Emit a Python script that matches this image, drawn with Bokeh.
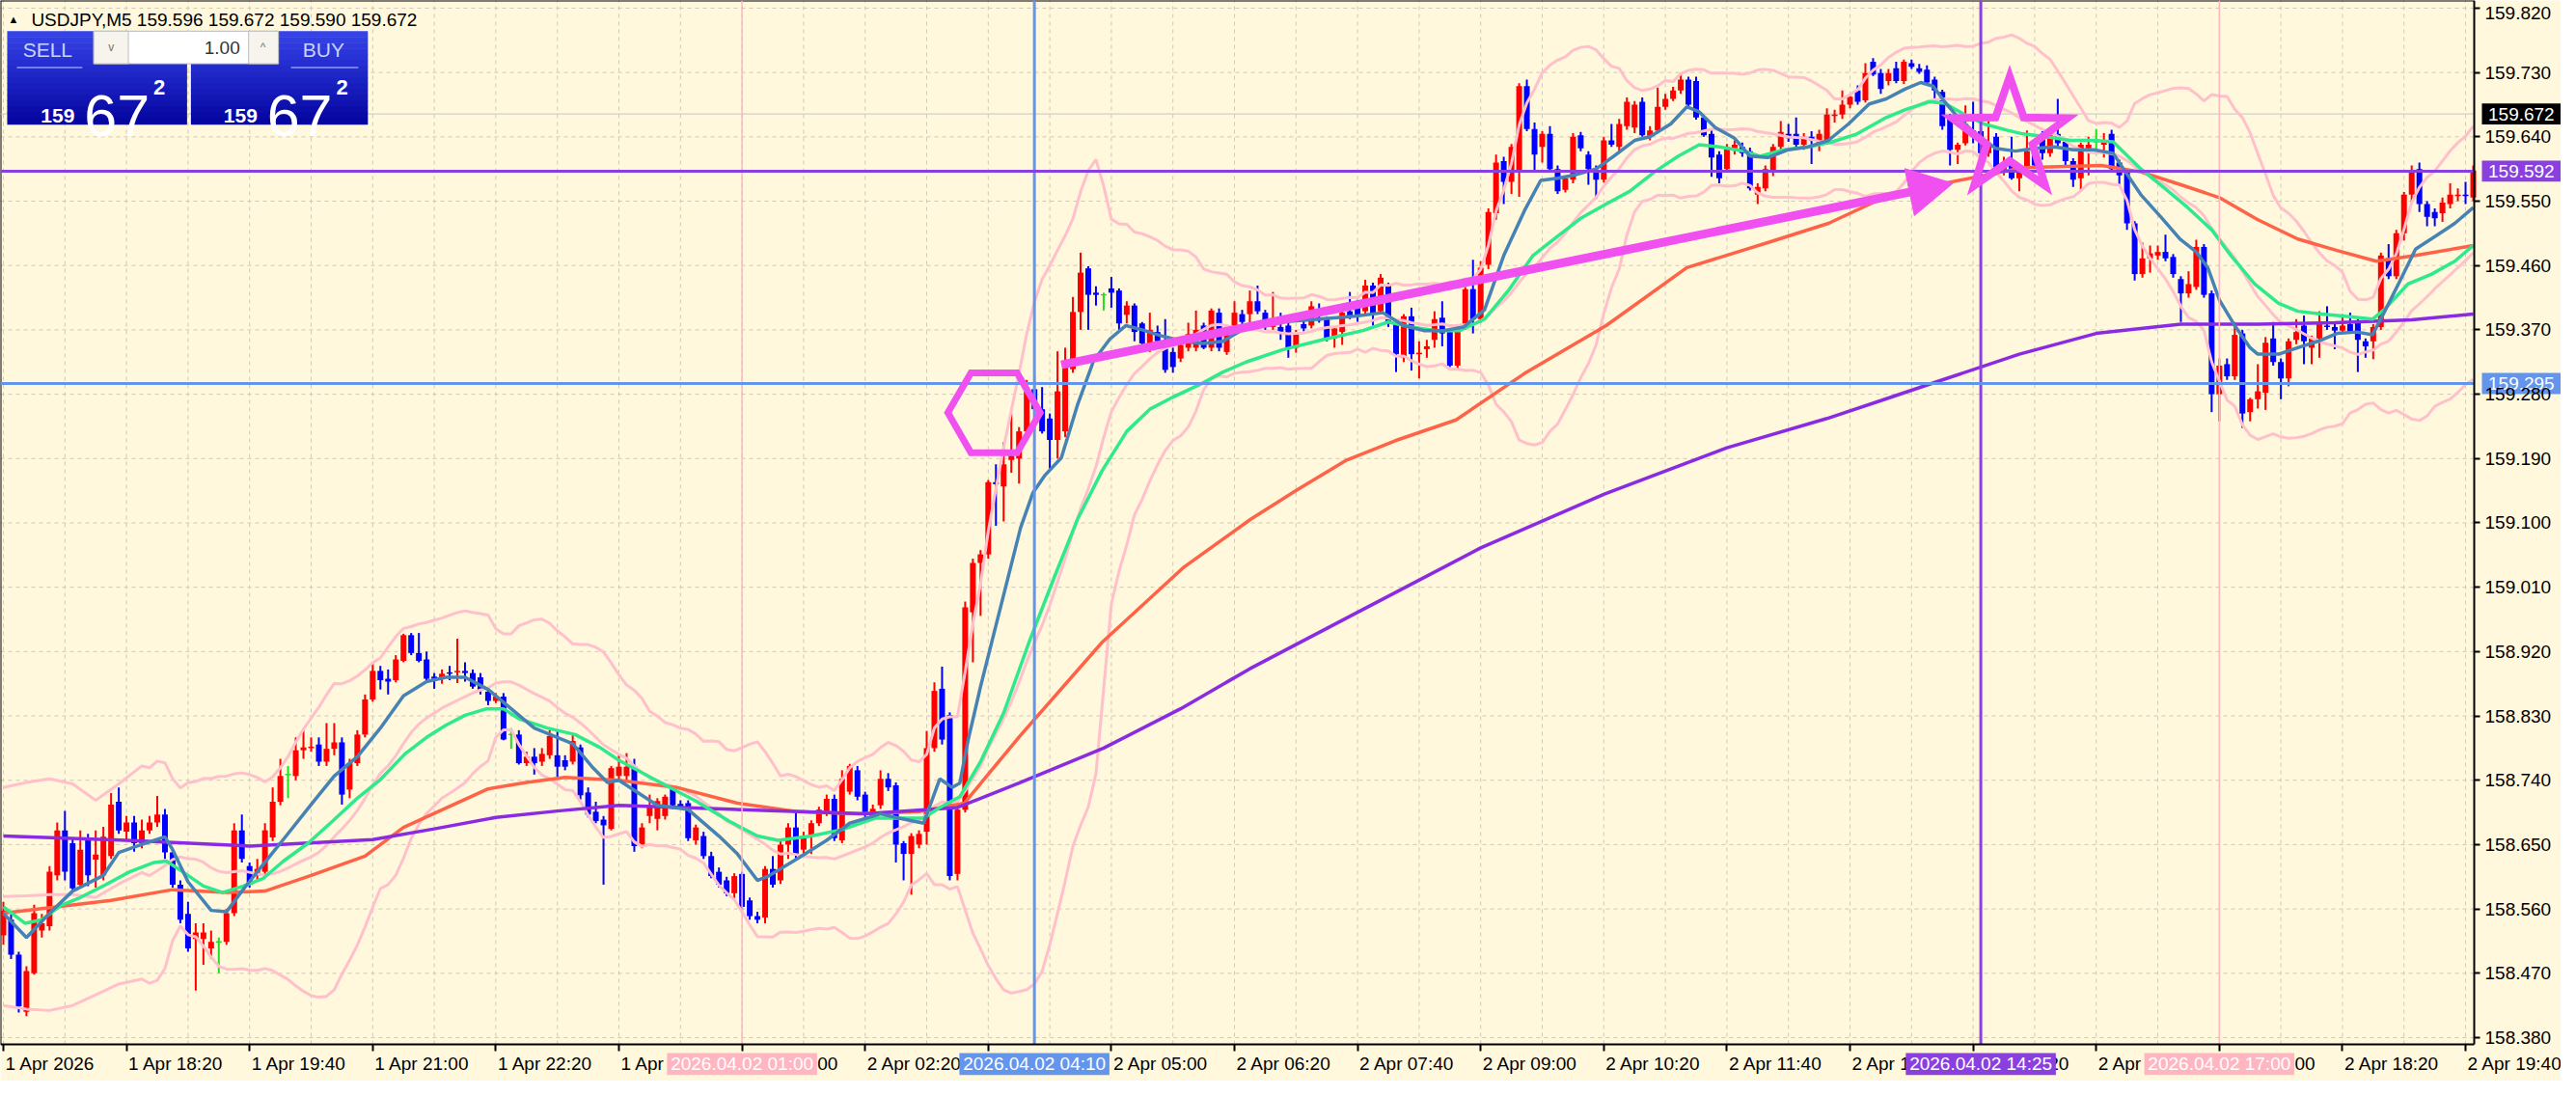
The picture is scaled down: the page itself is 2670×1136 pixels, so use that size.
import numpy as np
import pandas as pd
from bokeh.plotting import figure
from bokeh.models import FixedTicker, ColumnDataSource, PrintfTickFormatter, LinearAxis
from bokeh.core.properties import value
from bokeh.embed import file_html
from bokeh.resources import INLINE

# ---------------- data ----------------
symbol = "USDJPY,M5"
title_ohlc = "159.596 159.672 159.590 159.672"
lot_text = "1.00"

opens = [
158.523,158.545,158.496,158.416,158.470,158.530,158.536,158.607,158.670,158.652,
158.594,158.657,158.629,158.607,158.634,158.710,158.668,158.681,158.652,158.670,
158.681,158.692,158.639,158.594,158.553,158.518,158.518,158.505,158.514,158.514,
158.554,158.670,158.620,158.607,158.612,158.660,158.710,158.748,158.746,158.782,
158.785,158.790,158.766,158.784,158.793,158.727,158.764,158.804,158.853,158.893,
158.882,158.880,158.907,158.943,158.918,158.909,158.885,158.882,158.891,158.891,
158.893,158.890,158.884,158.864,158.851,158.857,158.804,158.804,158.764,158.773,
158.766,158.775,158.775,158.768,158.766,158.786,158.723,158.696,158.685,158.672,
158.746,158.746,158.759,158.650,158.690,158.686,158.690,158.730,158.707,158.708,
158.656,158.662,158.634,158.612,158.600,158.582,158.609,158.572,158.550,158.548,
158.616,158.600,158.650,158.674,158.643,158.662,158.680,158.695,158.714,158.656,
158.724,158.754,158.720,158.690,158.705,158.742,158.733,158.652,158.637,158.650,
158.668,158.785,158.868,158.831,158.609,158.699,158.975,159.044,159.056,159.157,
159.151,159.188,159.190,159.228,159.287,159.259,159.246,159.216,159.228,159.315,
159.395,159.456,159.422,159.419,159.428,159.425,159.391,159.404,159.379,159.351,
159.367,159.354,159.339,159.330,159.345,159.345,159.376,159.345,159.394,159.339,
159.370,159.392,159.392,159.410,159.394,159.374,159.374,159.376,159.345,159.378,
159.376,159.387,159.385,159.358,159.367,159.396,159.401,159.396,159.432,159.396,
159.432,159.378,159.331,159.389,159.336,159.343,159.356,159.387,159.367,159.320,
159.374,159.427,159.385,159.461,159.533,159.606,159.577,159.590,159.711,159.651,
159.626,159.644,159.595,159.566,159.580,159.642,159.615,159.593,159.580,159.635,
159.626,159.655,159.653,159.689,159.640,159.649,159.682,159.693,159.705,159.720,
159.718,159.667,159.644,159.615,159.595,159.624,159.626,159.620,159.559,159.568,
159.591,159.626,159.644,159.644,159.629,159.640,159.629,159.635,159.669,159.671,
159.685,159.705,159.691,159.745,159.729,159.718,159.736,159.718,159.743,159.736,
159.734,159.720,159.703,159.668,159.622,159.631,159.649,159.648,159.617,159.640,
159.591,159.602,159.582,159.595,159.624,159.644,159.617,159.644,159.633,159.606,
159.582,159.624,159.633,159.629,159.644,159.604,159.590,159.519,159.448,159.470,
159.474,159.479,159.472,159.441,159.421,159.430,159.486,159.421,159.280,159.322,
159.305,159.365,159.255,159.273,159.282,159.358,159.325,159.302,159.356,159.376,
159.345,159.358,159.376,159.374,159.369,159.378,159.381,159.354,159.354,159.374,
159.470,159.445,159.505,159.559,159.595,159.546,159.535,159.533,159.546,159.557,159.559,159.555]

highs = [
158.570,158.552,158.500,158.480,158.566,158.553,158.620,158.681,158.697,158.660,
158.670,158.665,158.670,158.675,158.722,158.730,158.690,158.690,158.685,158.690,
158.718,158.700,158.645,158.600,158.570,158.540,158.540,158.530,158.520,158.560,
158.680,158.692,158.625,158.630,158.680,158.730,158.770,158.760,158.800,158.810,
158.800,158.800,158.820,158.820,158.800,158.770,158.810,158.860,158.904,158.900,
158.895,158.915,158.945,158.946,158.946,158.920,158.890,158.895,158.900,158.938,
158.905,158.895,158.890,158.870,158.862,158.862,158.813,158.810,158.780,158.785,
158.785,158.810,158.810,158.775,158.805,158.790,158.730,158.710,158.690,158.760,
158.775,158.778,158.770,158.680,158.720,158.715,158.720,158.733,158.712,158.712,
158.678,158.668,158.640,158.618,158.605,158.610,158.612,158.576,158.556,158.620,
158.634,158.655,158.680,158.696,158.668,158.684,158.703,158.720,158.720,158.754,
158.763,158.760,158.724,158.706,158.754,158.750,158.737,158.655,158.666,158.670,
158.809,158.877,158.899,158.835,158.705,158.990,159.050,159.062,159.160,159.182,
159.213,159.253,159.234,159.300,159.305,159.290,159.253,159.340,159.345,159.416,
159.478,159.459,159.431,159.422,159.444,159.428,159.410,159.407,159.381,159.394,
159.376,159.385,159.345,159.360,159.380,159.397,159.380,159.400,159.400,159.370,
159.410,159.398,159.425,159.432,159.398,159.423,159.394,159.380,159.370,159.385,
159.410,159.407,159.388,159.375,159.398,159.423,159.412,159.440,159.436,159.448,
159.436,159.382,159.392,159.401,159.354,159.356,159.396,159.410,159.370,159.378,
159.430,159.468,159.466,159.540,159.615,159.612,159.630,159.715,159.720,159.660,
159.648,159.655,159.600,159.585,159.645,159.647,159.620,159.600,159.640,159.658,
159.665,159.695,159.690,159.695,159.655,159.709,159.700,159.710,159.729,159.724,
159.724,159.670,159.650,159.620,159.630,159.635,159.632,159.625,159.575,159.600,
159.630,159.662,159.658,159.667,159.645,159.648,159.650,159.680,159.678,159.705,
159.700,159.712,159.743,159.750,159.735,159.735,159.745,159.748,159.748,159.742,
159.740,159.724,159.706,159.672,159.632,159.684,159.689,159.652,159.662,159.645,
159.612,159.640,159.598,159.649,159.628,159.648,159.646,159.693,159.637,159.610,
159.632,159.640,159.651,159.645,159.650,159.608,159.595,159.522,159.492,159.488,
159.488,159.503,159.476,159.445,159.452,159.496,159.490,159.425,159.330,159.330,
159.381,159.370,159.275,159.322,159.360,159.381,159.330,159.358,159.385,159.390,
159.362,159.396,159.403,159.380,159.392,159.394,159.385,159.358,159.378,159.478,
159.490,159.510,159.563,159.600,159.604,159.550,159.540,159.555,159.575,159.568,159.577,159.600]

lows = [
158.510,158.490,158.415,158.410,158.468,158.520,158.530,158.600,158.600,158.585,
158.590,158.592,158.590,158.600,158.630,158.665,158.655,158.640,158.645,158.665,
158.675,158.630,158.590,158.540,158.500,158.446,158.482,158.490,158.470,158.510,
158.550,158.625,158.590,158.600,158.605,158.655,158.705,158.715,158.740,158.770,
158.780,158.760,158.760,158.775,158.706,158.715,158.760,158.800,158.850,158.867,
158.860,158.877,158.905,158.915,158.905,158.879,158.868,158.875,158.880,158.876,
158.878,158.868,158.860,158.845,158.848,158.796,158.784,158.762,158.760,158.748,
158.760,158.770,158.745,158.754,158.762,158.713,158.688,158.680,158.594,158.670,
158.740,158.740,158.640,158.645,158.680,158.670,158.685,158.700,158.700,158.655,
158.650,158.630,158.603,158.590,158.578,158.575,158.558,158.545,158.540,158.540,
158.590,158.595,158.630,158.630,158.635,158.637,158.676,158.690,158.655,158.652,
158.720,158.712,158.688,158.686,158.700,158.725,158.625,158.600,158.580,158.645,
158.650,158.780,158.790,158.600,158.600,158.695,158.905,158.970,159.050,159.096,
159.102,159.170,159.155,159.225,159.228,159.225,159.176,159.190,159.220,159.310,
159.370,159.370,159.404,159.397,159.401,159.370,159.379,159.354,159.345,159.339,
159.350,159.310,159.310,159.325,159.340,159.340,159.343,159.340,159.340,159.335,
159.365,159.378,159.378,159.392,159.370,159.370,159.356,159.331,159.338,159.368,
159.372,159.380,159.354,159.345,159.349,159.385,159.381,159.392,159.376,159.392,
159.374,159.311,159.325,159.313,159.302,159.331,159.345,159.347,159.318,159.316,
159.370,159.365,159.380,159.455,159.524,159.546,159.560,159.556,159.648,159.591,
159.604,159.593,159.560,159.562,159.575,159.620,159.573,159.553,159.576,159.626,
159.620,159.650,159.645,159.640,159.635,159.645,159.678,159.690,159.700,159.682,
159.664,159.640,159.584,159.575,159.590,159.615,159.612,159.565,159.546,159.564,
159.585,159.620,159.633,159.625,159.622,159.602,159.620,159.630,159.660,159.665,
159.680,159.685,159.688,159.725,159.700,159.712,159.715,159.714,159.735,159.728,
159.712,159.689,159.650,159.600,159.602,159.628,159.631,159.614,159.612,159.586,
159.586,159.580,159.564,159.590,159.597,159.608,159.612,159.626,159.600,159.570,
159.564,159.586,159.615,159.611,159.593,159.573,159.510,159.439,159.443,159.450,
159.468,159.466,159.443,159.381,159.415,159.426,159.415,159.255,159.242,159.300,
159.300,159.233,159.242,159.260,159.258,159.320,159.273,159.291,159.350,159.322,
159.322,159.331,159.370,159.343,159.365,159.365,159.311,159.331,159.329,159.370,
159.441,159.441,159.495,159.548,159.535,159.515,159.515,159.521,159.540,159.550,159.546,159.550]

closes = [
158.558,158.496,158.424,158.473,158.554,158.540,158.612,158.670,158.612,158.589,
158.643,158.607,158.636,158.661,158.706,158.670,158.681,158.652,158.670,158.681,
158.692,158.639,158.594,158.545,158.505,158.527,158.527,158.514,158.514,158.554,
158.670,158.630,158.594,158.616,158.670,158.710,158.746,158.748,158.782,158.786,
158.787,158.766,158.784,158.793,158.720,158.764,158.804,158.853,158.893,158.880,
158.878,158.909,158.943,158.918,158.907,158.882,158.882,158.889,158.889,158.893,
158.890,158.871,158.866,158.851,158.857,158.797,158.804,158.764,158.773,158.764,
158.777,158.802,158.759,158.759,158.795,158.719,158.692,158.683,158.677,158.757,
158.759,158.759,158.648,158.674,158.705,158.711,158.717,158.705,158.703,158.659,
158.674,158.634,158.606,158.594,158.582,158.606,158.563,158.550,158.545,158.616,
158.594,158.650,158.674,158.637,158.662,158.680,158.699,158.714,158.659,158.742,
158.760,158.717,158.693,158.700,158.742,158.730,158.650,158.637,158.662,158.665,
158.785,158.865,158.797,158.606,158.699,158.982,159.044,159.056,159.157,159.154,
159.182,159.194,159.228,159.284,159.259,159.228,159.216,159.284,159.320,159.395,
159.450,159.419,159.419,159.419,159.422,159.379,159.404,159.367,159.351,159.370,
159.354,159.314,159.318,159.349,159.364,159.370,159.345,159.397,159.345,159.364,
159.394,159.381,159.410,159.396,159.374,159.385,159.367,159.343,159.365,159.372,
159.403,159.383,159.358,159.372,159.394,159.389,159.389,159.432,159.392,159.443,
159.378,159.336,159.389,159.336,159.338,159.347,159.385,159.365,159.320,159.374,
159.427,159.385,159.457,159.535,159.604,159.577,159.626,159.711,159.651,159.615,
159.644,159.595,159.564,159.582,159.640,159.624,159.595,159.580,159.635,159.629,
159.658,159.689,159.685,159.642,159.649,159.682,159.693,159.705,159.720,159.685,
159.667,159.642,159.611,159.582,159.626,159.629,159.617,159.568,159.570,159.595,
159.626,159.647,159.638,159.629,159.640,159.635,159.644,159.671,159.671,159.685,
159.696,159.689,159.729,159.727,159.707,159.729,159.718,159.745,159.738,159.731,
159.716,159.705,159.655,159.622,159.629,159.658,159.640,159.617,159.631,159.591,
159.600,159.582,159.593,159.620,159.600,159.617,159.642,159.631,159.606,159.580,
159.629,159.629,159.633,159.635,159.595,159.586,159.519,159.448,159.470,159.477,
159.479,159.470,159.448,159.421,159.434,159.486,159.419,159.280,159.320,159.305,
159.363,159.253,159.273,159.284,159.352,159.325,159.302,159.354,159.367,159.354,
159.358,159.381,159.374,159.369,159.376,159.367,159.356,159.347,159.374,159.474,
159.445,159.505,159.559,159.593,159.546,159.528,159.526,159.548,159.559,159.559,159.557,159.593]

# fast MA (steel blue)
steel_bar = [0,3,6,9,13,15,18.5,21,22,24,27,29,31,33,36,40,43,46,49,52,55,57.5,60,63,66,69,72,74,76.5,78.5,
             80,85,89,93,95.4,98,99.6,103.3,107,110,114,116.4,119.6,121.7,123.3,124.3,125.4,127,129.6,132.2,
             133.8,135.4,137.5,139.6,141.7,143.8,145.9,148,150.7,153.3,155.9,158.5,161,166,171,175.6,179.3,182,184.6,187.2,
             189.8,192.5,195,197.7,199.8,202,204,207,209.3,212,214,216.7,218.8,220.4,222.5,225,227,229.3,232,234.6,
             237.2,239.8,242.5,244.7,247.2,249.2,250.8,252.3,254.3,256.4,258.9,261.5,264,266.6,269,271.7,274.2,275.8,277.8,280.4,
             282.9,285,286.5,288,290,292,293,295.7,298.2,300.8,303.3,305.9,307.9,309.4,311.5,313.5,316.1,318.6,321]
steel_val = [158.554,158.520,158.554,158.585,158.607,158.639,158.652,158.661,158.643,158.598,
             158.558,158.556,158.585,158.612,158.652,158.706,158.746,158.773,158.813,158.858,
             158.878,158.884,158.884,158.867,158.840,158.813,158.800,158.791,158.759,158.737,
             158.740,158.705,158.699,158.662,158.637,158.600,158.607,158.631,158.656,158.680,
             158.693,158.687,158.680,158.742,158.730,158.736,158.797,158.871,158.982,159.093,
             159.142,159.167,159.191,159.265,159.327,159.357,159.376,159.370,159.361,159.354,
             159.351,159.354,159.370,159.381,159.385,159.389,159.394,159.376,159.369,159.369,
             159.374,159.398,159.474,159.537,159.579,159.582,159.586,159.595,159.613,159.635,
             159.640,159.658,159.682,159.675,159.653,159.638,159.613,159.611,159.622,159.626,
             159.635,159.658,159.686,159.693,159.707,159.716,159.711,159.689,159.664,159.644,
             159.624,159.620,159.624,159.626,159.622,159.622,159.617,159.591,159.559,159.528,
             159.497,159.479,159.457,159.412,159.376,159.345,159.336,159.336,159.345,159.354,
             159.365,159.367,159.363,159.394,159.439,159.483,159.501,159.519,159.541]

# medium MA (spring green)
green_bar = [0,2.8,5,7.5,10,13.3,16.4,19.6,21.2,23.3,26,28.5,31.2,33.8,36.4,39.6,42.8,46,49,52.2,
             55,57.5,60,62.8,65,67,70.7,74.3,77.5,80,85,90,94.3,98,100.7,105,109,113.3,116.4,119.6,
             121.7,124.3,127,130,133.3,136.4,139.6,142.8,146,149,152.2,155.4,158.5,161.5,166.2,171.4,176.7,180,183,186.2,
             189.3,192.5,195.6,198.8,202,205,208.3,211.4,214.6,217.7,220.4,223,226.2,228.3,231.4,234.6,237.7,240.9,242.7,244.7,
             247.2,250.3,252.3,254.9,257.4,260.5,262.5,265.6,268.6,271.7,274.2,277.8,280.9,283.9,287,289.5,292.6,295.7,298.2,301.3,
             304.3,307.9,309.4,312.5,315.6,318.6,321]
green_val = [158.563,158.540,158.545,158.565,158.576,158.594,158.612,158.625,158.627,158.612,
             158.592,158.583,158.592,158.603,158.627,158.652,158.683,158.715,158.741,158.777,
             158.800,158.817,158.831,158.840,158.840,158.826,158.813,158.804,158.786,158.768,
             158.739,158.711,158.683,158.662,158.656,158.662,158.671,158.687,158.687,158.687,
             158.702,158.717,158.766,158.834,158.933,159.019,159.105,159.173,159.228,159.259,
             159.277,159.293,159.311,159.325,159.342,159.356,159.369,159.381,159.374,159.369,
             159.369,159.385,159.425,159.474,159.501,159.526,159.546,159.564,159.591,159.613,
             159.629,159.626,159.620,159.613,159.622,159.626,159.633,159.644,159.655,159.667,
             159.678,159.689,159.687,159.671,159.658,159.649,159.644,159.640,159.635,159.635,
             159.633,159.595,159.568,159.541,159.510,159.474,159.434,159.407,159.396,159.392,
             159.389,159.385,159.398,159.434,159.448,159.466,159.488]

# slow MA (tomato)
tomato_bar = [0,14,22,29,34,40,47,52,57.5,63,68,73,80,87.5,95.4,103.3,111.2,119,124.9,132.2,
              142.8,153.3,162.1,168.4,174.6,180.9,188.8,197.7,208.3,218.8,229.3,237.2,243.4,252.3,262.5,272.7,277.8,283,288,293,
              298.2,303.3,308.4,313.5,321]
tomato_val = [158.554,158.572,158.587,158.583,158.585,158.607,158.634,158.674,158.701,158.728,
              158.737,158.744,158.740,158.730,158.708,158.696,158.693,158.696,158.708,158.803,
              158.933,159.037,159.105,159.148,159.188,159.215,159.244,159.309,159.376,159.457,
              159.492,159.519,159.550,159.575,159.597,159.600,159.591,159.573,159.555,159.524,
              159.497,159.481,159.466,159.474,159.488]

# long MA (blue violet)
purple_bar = [0,16,32,48,56,64,72,80,96,112,124,132,143,153,162,176,192,208,224,237,244,252,262,272,283,293,303,313,321]
purple_val = [158.662,158.656,158.648,158.657,158.672,158.688,158.697,158.705,158.699,158.693,
              158.702,158.736,158.785,158.840,158.896,158.975,159.065,159.140,159.205,159.246,
              159.271,159.300,159.336,159.365,159.378,159.378,159.380,159.384,159.392]

# Bollinger bands before 20 closes are on screen
bb_early_bar = [0, 3, 6, 9, 12, 15, 18]
bb_early_upper = [158.730, 158.737, 158.742, 158.735, 158.712, 158.735, 158.760]
bb_early_lower = [158.425, 158.420, 158.418, 158.425, 158.440, 158.455, 158.462]

price_ticks = [158.380, 158.470, 158.560, 158.650, 158.740, 158.830, 158.920, 159.010, 159.100,
               159.190, 159.280, 159.370, 159.460, 159.550, 159.640, 159.730, 159.820]
time_label_bars = [0, 16, 32, 48, 64, 80, 96, 112, 128, 144, 160, 176, 192, 208, 224, 240, 256, 272, 288, 304, 320]
time_labels = ["1 Apr 2026", "1 Apr 18:20", "1 Apr 19:40", "1 Apr 21:00", "1 Apr 22:20", "1 Apr 23:40",
               "2 Apr 01:00", "2 Apr 02:20", "2 Apr 03:40", "2 Apr 05:00", "2 Apr 06:20", "2 Apr 07:40",
               "2 Apr 09:00", "2 Apr 10:20", "2 Apr 11:40", "2 Apr 13:00", "2 Apr 14:20", "2 Apr 15:40",
               "2 Apr 17:00", "2 Apr 18:20", "2 Apr 19:40"]
grid_bars = [0, 8, 16, 24, 32, 40, 48, 56, 64, 72, 80, 88, 96, 104, 112, 120, 128, 136, 144, 152, 160,
             168, 176, 184, 192, 200, 208, 216, 224, 232, 240, 248, 256, 264, 272, 280, 288, 296, 304, 312, 320]

bid_price = 159.672
hline_purple = 159.592
hline_blue = 159.295
vline_bars = [96, 134, 257, 288]
vline_texts = ["2026.04.02 01:00", "2026.04.02 04:10", "2026.04.02 14:25", "2026.04.02 17:00"]

# drawn objects, anchored by bar / price
hex_center = (128.75, 159.254)
arrow_from = (137.5, 159.321)
arrow_tip = (253.375, 159.575)
star_center = (260.75, 159.640)

# ---------------- styles ----------------
FONT = "Liberation Sans"
BG = "#FFF8DC"
GRID = "#CFC9B8"
RED = "#FF0000"
BLUE = "#0000FF"
DOJI = "#22DD22"
PINK = "#FFC0CB"
STEEL = "#4682B4"
SPRING = "#2EEA8C"
TOMATO = "#FF6347"
VIOLET = "#8A2BE2"
OBJ_PURPLE = "#8A3FDF"
OBJ_BLUE = "#6495ED"
OBJ_PINK = "#FFB6C1"
MAG = "#F050F0"

W, H = 2654, 1120                 # canvas
X0, X1 = -0.375, 321.125          # chart area (bars)
Y0, Y1 = 158.3706, 159.8307       # chart area (price)
FW, FH = 2564, 1082               # chart area in canvas pixels
XE = X0 + W * (X1 - X0) / FW
YE = Y1 - H * (Y1 - Y0) / FH
PX_BAR = 8.0                      # reference pixels per bar
PX_PRICE = 1089.0 / (Y1 - Y0)     # reference pixels per price unit


def rx(px):
    return X0 + px * (X1 - X0) / 2572.0


def ry(py):
    return Y1 - (py - 1) * (Y1 - Y0) / 1089.0


def py_of(price):
    return (Y1 - price) * PX_PRICE + 1


p = figure(width=W, height=H, x_range=(X0, XE), y_range=(YE, Y1),
           x_axis_location=None, y_axis_location=None,
           output_backend="svg", toolbar_location=None,
           background_fill_color=BG, border_fill_color=BG, min_border=0)
p.outline_line_color = None
p.grid.visible = False

# price axis: the top label sits on the page edge, so it is written separately below
yax = LinearAxis(fixed_location=X1, bounds=(Y0, Y1), ticker=FixedTicker(ticks=price_ticks[:-1]),
                 formatter=PrintfTickFormatter(format="%.3f"))
yax.major_label_text_font = FONT
yax.major_label_text_font_size = "19px"
yax.major_label_text_color = "black"
yax.major_tick_out = 6
yax.major_tick_in = 0
yax.major_tick_line_width = 2
yax.minor_tick_line_color = None
yax.axis_line_width = 2
yax.major_label_standoff = 5
p.add_layout(yax, "right")

xax = LinearAxis(fixed_location=Y0, bounds=(X0, X1), ticker=FixedTicker(ticks=time_label_bars))
xax.major_label_text_color = None
xax.major_tick_out = 7
xax.major_tick_in = 0
xax.major_tick_line_width = 2
xax.minor_tick_line_color = None
xax.axis_line_width = 2
p.add_layout(xax, "below")

# grid (chart area only)
p.segment(x0=grid_bars, y0=[Y0] * len(grid_bars), x1=grid_bars, y1=[Y1] * len(grid_bars),
          line_color=GRID, line_dash="4 4", line_width=1)
p.segment(x0=[X0] * len(price_ticks), y0=price_ticks, x1=[X1] * len(price_ticks), y1=price_ticks,
          line_color=GRID, line_dash="4 4", line_width=1)
# top / left borders
p.segment(x0=[X0, X0], y0=[Y1, Y0], x1=[X1, X0], y1=[Y1, Y1], line_color="black", line_width=2)

# bid line
p.segment(x0=[X0], y0=[bid_price], x1=[X1], y1=[bid_price], line_color="#C4C4C4", line_width=1)

# ---------------- candles ----------------
n = min(len(opens), len(highs), len(lows), len(closes))
o = np.array(opens[:n]); h = np.array(highs[:n]); l = np.array(lows[:n]); c = np.array(closes[:n])
idx = np.arange(n)
cols = np.where(c > o, RED, np.where(c < o, BLUE, DOJI))
mid = (o + c) / 2
top = np.maximum(np.maximum(o, c), mid + 0.0009)
bot = np.minimum(np.minimum(o, c), mid - 0.0009)
src = ColumnDataSource(dict(x=idx, h=h, l=l, top=top, bot=bot, col=cols))
p.segment(x0="x", y0="l", x1="x", y1="h", source=src, line_color="col", line_width=2)
p.vbar(x="x", width=0.75, top="top", bottom="bot", source=src, fill_color="col", line_color=None)

# ---------------- indicators ----------------
cl = pd.Series(c)
m20 = cl.rolling(20).mean()
s20 = cl.rolling(20).std(ddof=0)
bb_x = bb_early_bar + list(range(19, n))
bb_up = bb_early_upper + list((m20 + 2 * s20)[19:])
bb_lo = bb_early_lower + list((m20 - 2 * s20)[19:])
bb_md = [(a + b) / 2 for a, b in zip(bb_early_upper, bb_early_lower)] + list(m20[19:])
for yy in (bb_up, bb_md, bb_lo):
    p.line(bb_x, yy, line_color=PINK, line_width=3)

p.line(tomato_bar, tomato_val, line_color=TOMATO, line_width=3.5)
p.line(purple_bar, purple_val, line_color=VIOLET, line_width=3.5)
p.line(green_bar, green_val, line_color=SPRING, line_width=3.5)
p.line(steel_bar, steel_val, line_color=STEEL, line_width=3.5)

# ---------------- objects ----------------
p.segment(x0=[vline_bars[0], vline_bars[3]], y0=[Y0, Y0], x1=[vline_bars[0], vline_bars[3]], y1=[Y1, Y1],
          line_color=OBJ_PINK, line_width=1.5)
p.segment(x0=[vline_bars[1]], y0=[Y0], x1=[vline_bars[1]], y1=[Y1], line_color=OBJ_BLUE, line_width=3)
p.segment(x0=[vline_bars[2]], y0=[Y0], x1=[vline_bars[2]], y1=[Y1], line_color=OBJ_PURPLE, line_width=3)
p.segment(x0=[X0], y0=[hline_purple], x1=[X1], y1=[hline_purple], line_color=OBJ_PURPLE, line_width=3)
p.segment(x0=[X0], y0=[hline_blue], x1=[X1], y1=[hline_blue], line_color=OBJ_BLUE, line_width=3)


def off(center, dx_px, dy_px):
    return center[0] + dx_px / PX_BAR, center[1] - dy_px / PX_PRICE


hx, hy = [], []
for k in range(6):
    a = np.radians(60 * k)
    x_, y_ = off(hex_center, 48 * np.cos(a), -48 * np.sin(a))
    hx.append(x_); hy.append(y_)
p.patch(hx, hy, fill_color=None, line_color=MAG, line_width=7, line_join="miter")

sx, sy = [], []
for k in range(10):
    a = np.radians(90 + 36 * k)
    r = 63 if k % 2 == 0 else 25
    x_, y_ = off(star_center, r * np.cos(a), -r * np.sin(a))
    sx.append(x_); sy.append(y_)
p.patch(sx, sy, fill_color=None, line_color=MAG, line_width=8, line_join="miter")

ax0 = (arrow_from[0] - X0) * PX_BAR; ay0 = py_of(arrow_from[1])
ax1 = (arrow_tip[0] - X0) * PX_BAR; ay1 = py_of(arrow_tip[1])
d = np.array([ax1 - ax0, ay1 - ay0]); u = d / np.hypot(*d); nrm = np.array([-u[1], u[0]])
base = np.array([ax1, ay1]) - 46 * u
c1 = base + 25 * nrm; c2 = base - 25 * nrm
p.line([arrow_from[0], rx(base[0])], [arrow_from[1], ry(base[1])], line_color=MAG, line_width=9)
p.patch([arrow_tip[0], rx(c1[0]), rx(c2[0])], [arrow_tip[1], ry(c1[1]), ry(c2[1])],
        fill_color=MAG, line_color=MAG, line_width=1)


# ---------------- helpers for boxes / texts (reference pixel positions) ----------------
def box(x0, y0, x1, y1, fill, line=None, lw=1):
    p.quad(left=rx(x0), right=rx(x1), top=ry(y0), bottom=ry(y1), fill_color=fill,
           line_color=line, line_width=lw)


def txt(x, y, s, size, color, align="left", baseline="middle", style="normal"):
    p.text([rx(x)], [ry(y)], text=[s], text_font=value(FONT), text_font_size=value(size),
           text_color=color, text_align=align, text_baseline=baseline, text_font_style=style)


def grad(x0, x1, y0, y1, c_top, c_bot, steps=16):
    for k in range(steps):
        t = k / (steps - 1)
        col = "#%02x%02x%02x" % tuple(int(round(a + (b - a) * t)) for a, b in zip(c_top, c_bot))
        ya = y0 + (y1 - y0) * k / steps
        yb = y0 + (y1 - y0) * (k + 1) / steps + 0.5
        box(x0, ya, x1, yb, col)


# top price tick and label, kept inside the page
p.segment(x0=[X1], y0=[price_ticks[-1]], x1=[rx(2578)], y1=[price_ticks[-1]], line_color="black", line_width=2)
txt(2583, 14, "%.3f" % price_ticks[-1], "19px", "black")

# ---------------- trade panel ----------------
grad(7, 194, 33, 130, (52, 66, 232), (6, 6, 160))
grad(198, 382, 33, 130, (52, 66, 232), (6, 6, 160))
p.line([rx(17), rx(85)], [ry(71), ry(71)], line_color="#8C9CFF", line_width=1.5)
p.line([rx(302), rx(372)], [ry(71), ry(71)], line_color="#8C9CFF", line_width=1.5)
box(97, 33, 289, 67, "#FFFFFF", "#BDBDBD", 1)
box(97, 33, 133, 67, "#F6F4EC", "#BDBDBD", 1)
box(258, 33, 289, 67, "#F6F4EC", "#BDBDBD", 1)
txt(115, 50, "v", "12px", "#777777", align="center")
txt(273, 50, "^", "12px", "#777777", align="center")
txt(249, 50, lot_text, "19px", "#333333", align="right")
txt(49, 52, "SELL", "21px", "#C8D4FF", align="center")
txt(336, 52, "BUY", "21px", "#C8D4FF", align="center")
for bx in (0, 190):
    txt(42 + bx, 121, "159", "21px", "white", baseline="alphabetic", style="bold")
    txt(87 + bx, 121, "67", "61px", "white", baseline="alphabetic")
    txt(159 + bx, 92, "2", "22px", "white", baseline="alphabetic", style="bold")

txt(8, 21, "\u25B2", "11px", "black")
txt(32, 21, symbol + "  " + title_ohlc, "19px", "black")

# ---------------- time labels under the chart ----------------
p.text(x=time_label_bars, y=[ry(1110)] * len(time_label_bars), text=time_labels, x_offset=2,
       text_font=value(FONT), text_font_size=value("19px"), text_color="black",
       text_align="left", text_baseline="middle")

for b, s, bgc in zip(vline_bars, vline_texts, [OBJ_PINK, OBJ_BLUE, OBJ_PURPLE, OBJ_PINK]):
    cx = 3 + 8 * b
    box(cx - 78, 1099, cx + 78, 1122, bgc)
    txt(cx, 1110.5, s, "19px", "white", align="center")

for pr, bgc in ((bid_price, "black"), (hline_purple, OBJ_PURPLE), (hline_blue, OBJ_BLUE)):
    cy = py_of(pr)
    box(2580, cy - 11, 2662, cy + 11, bgc)
    txt(2621, cy, "%.3f" % pr, "19px", "white", align="center")

open("out.html", "w").write(file_html(p, INLINE))
